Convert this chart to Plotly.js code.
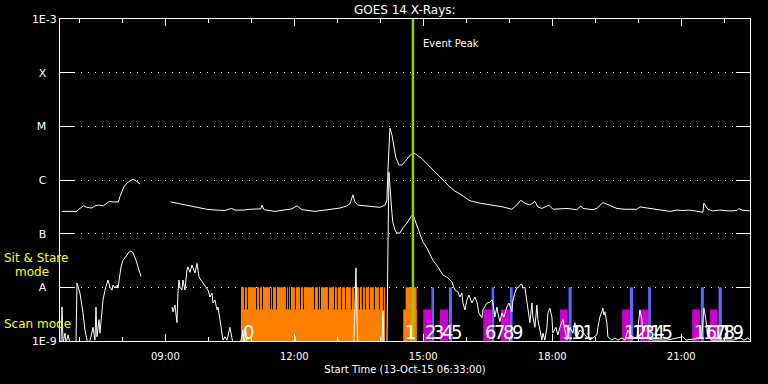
<!DOCTYPE html>
<html><head><meta charset="utf-8">
<script src="https://cdn.plot.ly/plotly-3.0.1.min.js"></script>
<style>html,body{margin:0;padding:0;background:#000;}#chart{width:768px;height:384px;}</style>
</head><body><div id="chart"></div>
<script>
// ---------------- DATA ----------------
const DAY = '2015-10-13';
const startTime = '06:33:00';
const endTime = '22:36:00';
const eventPeak = '14:45:36';

// GOES 14 long channel (1-8 A), hour of day / W m^-2 (null = data gap)
const longHour = [6.590,6.938,6.976,7.055,7.092,7.171,7.287,7.364,7.441,7.557,7.636,7.697,7.790,7.906,7.945,7.985,8.038,8.115,8.178,8.241,8.317,8.371,8.410,
  8.800,
  9.124,9.264,9.380,9.497,9.650,9.806,9.962,10.194,10.387,10.503,10.543,10.620,10.813,10.969,11.108,11.224,11.248,11.294,11.550,11.783,11.945,12.062,12.178,12.480,12.829,13.062,13.225,13.294,13.364,13.410,13.480,13.643,13.876,13.992,14.108,14.155,
  14.178,14.201,14.224,14.271,14.317,14.364,14.434,14.503,14.573,14.643,14.713,14.783,14.876,14.969,15.062,15.155,15.271,15.387,15.503,15.620,15.736,15.852,15.969,
  16.085,16.317,16.620,16.852,17.062,17.155,17.271,17.364,17.480,17.597,17.666,17.759,17.922,18.015,18.341,18.573,18.666,18.713,18.945,19.039,19.178,19.341,19.504,19.690,19.876,19.969,20.039,20.155,20.504,20.736,20.899,21.039,21.201,21.364,21.504,21.527,21.620,21.736,21.899,22.132,22.294,22.341,22.411,22.597];
const longFlux = [2.6e-7,2.6e-7,2.8e-7,3.1e-7,3.3e-7,3.1e-7,3.0e-7,3.3e-7,3.4e-7,3.3e-7,3.7e-7,4.0e-7,3.9e-7,3.9e-7,4.9e-7,6.1e-7,7.5e-7,8.9e-7,9.7e-7,1.03e-6,9.7e-7,8.9e-7,8.4e-7,
  null,
  3.9e-7,3.7e-7,3.5e-7,3.3e-7,3.2e-7,2.95e-7,2.85e-7,2.75e-7,2.7e-7,2.9e-7,2.95e-7,2.75e-7,2.75e-7,2.85e-7,2.9e-7,2.9e-7,3.4e-7,2.8e-7,2.6e-7,2.8e-7,2.9e-7,3.3e-7,2.8e-7,2.6e-7,2.8e-7,3.0e-7,3.3e-7,3.6e-7,5.3e-7,3.9e-7,3.4e-7,3.3e-7,3.1e-7,3.1e-7,3.4e-7,4.2e-7,
  1.5e-6,5.6e-6,9.3e-6,6.9e-6,4.0e-6,2.6e-6,1.9e-6,1.9e-6,2.2e-6,2.6e-6,3.0e-6,3.2e-6,2.8e-6,2.5e-6,2.1e-6,1.75e-6,1.4e-6,1.14e-6,9.2e-7,7.4e-7,6.2e-7,5.5e-7,4.8e-7,
  4.1e-7,3.7e-7,3.4e-7,3.15e-7,2.85e-7,3.3e-7,4.2e-7,3.7e-7,3.4e-7,4.0e-7,3.15e-7,2.95e-7,3.4e-7,2.85e-7,2.95e-7,2.8e-7,3.3e-7,2.95e-7,2.8e-7,2.95e-7,3.8e-7,3.4e-7,2.95e-7,2.85e-7,2.85e-7,2.85e-7,3.15e-7,3.05e-7,2.85e-7,2.6e-7,2.75e-7,2.7e-7,2.75e-7,2.6e-7,2.5e-7,3.7e-7,2.85e-7,2.65e-7,2.75e-7,2.65e-7,2.7e-7,2.95e-7,2.75e-7,2.65e-7];

// GOES 14 short channel (0.5-4 A), hour of day / W m^-2 (null = data gap)
const shortHour = [6.573,6.597,6.620,6.666,6.690,6.736,6.783,6.922,6.945,7.015,7.085,7.131,7.178,7.224,7.271,7.317,7.364,7.387,7.410,7.457,7.480,7.527,7.550,7.597,7.643,7.666,7.713,7.759,7.783,7.829,7.876,7.899,7.969,8.015,8.108,8.155,8.201,8.248,8.317,8.364,8.434,
  8.800,
  9.155,9.178,9.224,9.271,9.294,9.317,9.341,9.387,9.410,9.457,9.503,9.527,9.573,9.620,9.643,9.690,9.736,9.783,9.829,9.876,9.945,9.992,10.038,10.085,10.108,10.155,10.201,10.224,10.271,10.317,10.341,10.387,10.434,10.503,10.550,10.573,10.736,10.783,10.806,10.829,10.876,10.899,
  11.992,12.015,12.038,12.992,13.015,13.039,13.387,13.410,13.434,13.457,13.480,14.038,14.062,14.085,14.155,
  14.178,14.201,14.271,14.294,14.341,14.387,14.457,14.527,14.620,14.690,14.736,14.783,14.852,14.922,14.992,15.085,15.224,15.341,15.457,15.573,15.666,15.736,15.806,15.852,15.899,15.922,15.969,16.015,16.062,16.131,16.201,16.248,16.294,16.364,16.387,16.480,16.550,16.597,16.620,16.666,16.713,16.736,16.783,16.829,16.876,16.945,16.992,17.062,17.085,17.131,17.178,17.201,17.248,17.294,17.317,17.364,17.410,17.434,17.480,17.527,17.550,17.597,17.643,17.666,17.713,17.759,17.783,17.829,17.876,17.899,17.945,17.992,18.015,18.085,18.131,18.178,18.248,18.294,18.341,18.411,18.480,18.527,18.573,18.643,18.713,18.806,18.876,18.945,19.039,19.062,19.108,19.155,19.178,19.201,19.225,19.271,19.294,19.387,19.457,19.527,19.620,19.690,19.759,19.852,19.969,20.039,20.085,20.108,20.201,20.341,20.504,20.666,21.039,21.108,21.480,21.527,21.574,21.620,21.713,21.899,22.201,22.387,22.457,22.550,22.597];
const shortFlux = [9e-10,4.3e-9,9e-10,1.4e-9,9e-10,1.3e-9,9e-10,9e-10,1.2e-8,7.8e-9,3.3e-9,1.6e-9,1.04e-9,9e-10,1.2e-9,1.8e-9,1.04e-9,4.3e-9,1.2e-9,2.5e-9,1.4e-9,3.3e-9,5.8e-9,8.9e-9,1.2e-8,1.37e-8,1.0e-8,8.9e-9,1.1e-8,9.7e-9,1.1e-8,9.7e-9,2.4e-8,3.2e-8,4.0e-8,4.55e-8,4.75e-8,4.4e-8,3.2e-8,2.4e-8,1.6e-8,
  null,
  4.3e-9,3.5e-9,4.7e-9,2.2e-9,7.8e-9,1.37e-8,1.0e-8,8.9e-9,1.37e-8,8.9e-9,2.1e-8,2.4e-8,1.9e-8,2.6e-8,2.3e-8,1.85e-8,2.8e-8,1.56e-8,1.37e-8,1.2e-8,1.0e-8,8.9e-9,6.6e-9,7.8e-9,5.1e-9,5.8e-9,3.8e-9,4.3e-9,2.5e-9,1.4e-9,1.04e-9,1.2e-9,1.04e-9,1.8e-9,1.04e-9,9e-10,9e-10,1.2e-9,1.6e-9,9e-10,1.5e-9,9e-10,
  9e-10,1.2e-9,9e-10,9e-10,1.1e-9,9e-10,9e-10,3.3e-9,2.3e-8,3.3e-9,9e-10,9e-10,3.6e-9,9e-10,9e-10,
  5.0e-8,1.4e-6,2.4e-7,1.6e-7,1.17e-7,1.03e-7,1.03e-7,1.28e-7,1.58e-7,2.0e-7,2.2e-7,2.0e-7,1.45e-7,1.03e-7,7.0e-8,5.4e-8,3.2e-8,2.4e-8,1.7e-8,1.5e-8,1.26e-8,8.9e-9,8.2e-9,6.6e-9,7.8e-9,5.1e-9,3.8e-9,5.8e-9,7.2e-9,5.1e-9,6.6e-9,5.3e-9,3.3e-9,2.7e-9,3.8e-9,5.1e-9,5.3e-9,5.8e-9,5.1e-9,2.8e-9,4.3e-9,3.3e-9,2.3e-9,3.3e-9,2.8e-9,4.3e-9,5.1e-9,3.5e-9,5.8e-9,7.8e-9,1.0e-8,9.7e-9,1.1e-8,1.15e-8,9.7e-9,1.0e-8,5.8e-9,3.8e-9,2.2e-9,5.1e-9,2.8e-9,1.8e-9,4.7e-9,2.5e-9,1.5e-9,1.04e-9,1.4e-9,1.04e-9,1.8e-9,3.3e-9,4.1e-9,2.8e-9,1.4e-9,1.8e-9,1.3e-9,1.8e-9,2.5e-9,1.5e-9,1.04e-9,1.8e-9,1.4e-9,2.2e-9,1.2e-9,1.6e-9,1.4e-9,1.14e-9,1.04e-9,1.14e-9,1.3e-9,1.8e-9,2.8e-9,3.5e-9,4.1e-9,3.05e-9,3.5e-9,2.2e-9,1.2e-9,1.04e-9,1.14e-9,1.04e-9,1.14e-9,1.04e-9,1.6e-9,1.2e-9,1.14e-9,3.8e-9,2.5e-9,1.14e-9,1.14e-9,1.04e-9,1.04e-9,1.04e-9,1.2e-9,1.04e-9,1.14e-9,4.1e-9,2.5e-9,1.2e-9,1.04e-9,1.04e-9,1.04e-9,1.14e-9,1.04e-9,1.14e-9,1.04e-9];

// Observations (number, start, end, mode)
const obsLabel = ['0','1','2','3','4','5','6','7','8','9','10','11','12','13','14','15','16','17','18','19'];
const obsStart = ['10:45:36','14:32:00','14:59:54','15:11:24','15:23:12','15:35:48','16:23:42','16:35:24','16:48:18','17:00:54','18:10:42','18:22:48','19:37:36','19:48:18','20:02:18','20:13:54','21:15:18','21:27:24','21:40:00','21:52:06'];
const obsEnd   = ['14:06:30','14:50:42','15:11:24','15:14:54','15:34:48','15:40:00','16:35:24','16:39:00','17:00:54','17:04:42','18:21:24','18:27:00','19:48:18','19:53:00','20:13:54','20:17:36','21:26:00','21:31:36','21:50:42','21:56:42'];
const obsMode  = ['sitstare','sitstare','scan','sit','scan','sit','scan','sit','scan','sit','scan','sit','scan','sit','scan','sit','scan','sit','scan','sit'];

// Sit & stare exposure blocks within observations 0 and 1
const ssExpStart = ['10:45:36','10:51:06','10:55:18','11:07:54','11:12:06','11:16:18','11:27:24','11:30:12','11:35:48','11:49:42','11:52:30','11:55:18','12:02:18','12:09:18','12:13:30','12:28:48','12:34:24','12:37:12','12:48:18','12:56:42','13:00:54','13:06:30','13:12:06','13:20:24','13:24:36','13:31:36','13:35:48','13:40:00','13:45:36','13:52:30','13:59:30','14:05:06','14:35:24'];
const ssExpEnd   = ['10:49:42','10:53:54','11:06:30','11:10:42','11:14:54','11:26:00','11:28:48','11:34:24','11:48:18','11:51:06','11:53:54','12:00:54','12:07:54','12:12:06','12:27:24','12:33:00','12:35:48','12:46:54','12:55:18','12:59:30','13:05:06','13:10:42','13:19:00','13:23:12','13:30:12','13:34:24','13:38:36','13:44:12','13:51:06','13:58:06','14:03:42','14:06:30','14:50:42'];

const yTickVals = [1e-9, 1e-8, 1e-7, 1e-6, 1e-5, 1e-4, 1e-3];
const yTickText = ['1E-9', 'A', 'B', 'C', 'M', 'X', '1E-3'];

// ---------------- HELPERS ----------------
const pad = n => String(n).padStart(2, '0');
function hourStamp(h) {
  const s = Math.round(h * 3600);
  return DAY + ' ' + pad(Math.floor(s / 3600)) + ':' + pad(Math.floor(s % 3600 / 60)) + ':' + pad(s % 60);
}
const clockStamp = c => DAY + ' ' + c;
function clockMs(c) { const p = c.split(':').map(Number); return ((p[0] * 60 + p[1]) * 60 + p[2]) * 1000; }

const SIT_TOP = 1e-8;     // level of sit & stare marks (A level)
const SCAN_TOP = 3.86e-9; // level of scan marks
const ORANGE = '#ff8000', MAGENTA = '#cc00cc', BLUE = '#6464ff';

function barTrace(starts, ends, level, color) {
  return {
    type: 'bar', x: starts.map(clockStamp),
    width: starts.map((s, i) => clockMs(ends[i]) - clockMs(s)),
    offset: 0, y: starts.map(() => level),
    marker: {color: color, line: {width: 0}}, hoverinfo: 'skip'
  };
}
const pick = (arr, mode) => arr.filter((_, i) => obsMode[i] === mode);

const traces = [
  barTrace(pick(obsStart, 'sitstare'), pick(obsEnd, 'sitstare'), SCAN_TOP, ORANGE),
  barTrace(ssExpStart, ssExpEnd, SIT_TOP, ORANGE),
  barTrace(pick(obsStart, 'scan'), pick(obsEnd, 'scan'), SCAN_TOP, MAGENTA),
  barTrace(pick(obsStart, 'sit'), pick(obsEnd, 'sit'), SIT_TOP, BLUE),
  {type: 'scatter', mode: 'lines', x: shortHour.map(hourStamp), y: shortFlux,
   line: {color: '#ffffff', width: 1}, connectgaps: false, hoverinfo: 'skip'},
  {type: 'scatter', mode: 'lines', x: longHour.map(hourStamp), y: longFlux,
   line: {color: '#ffffff', width: 1}, connectgaps: false, hoverinfo: 'skip'}
];

const FONT = 'DejaVu Sans, sans-serif';
const NB = '\u00a0\u00a0\u00a0';
const annotations = [
  {xref: 'x', yref: 'paper', x: clockStamp(eventPeak), y: 0.925, xanchor: 'left', yanchor: 'middle', xshift: 8,
   text: 'Event Peak', showarrow: false, font: {family: FONT, size: 10, color: '#ffffff'}},
  {xref: 'paper', yref: 'paper', x: -0.084, y: 0.258, xanchor: 'left', yanchor: 'middle', text: 'Sit & Stare',
   showarrow: false, font: {family: FONT, size: 12, color: '#ffff00'}},
  {xref: 'paper', yref: 'paper', x: -0.068, y: 0.214, xanchor: 'left', yanchor: 'middle', text: 'mode',
   showarrow: false, font: {family: FONT, size: 12, color: '#ffff00'}},
  {xref: 'paper', yref: 'paper', x: -0.084, y: 0.053, xanchor: 'left', yanchor: 'middle', text: 'Scan mode',
   showarrow: false, font: {family: FONT, size: 12, color: '#ffff00'}}
];
obsLabel.forEach((lab, i) => annotations.push({
  xref: 'x', yref: 'paper', x: clockStamp(obsStart[i]), y: 0, xanchor: 'left', yanchor: 'bottom', yshift: -5,
  text: lab, showarrow: false,
  font: {family: 'Liberation Sans Narrow, DejaVu Sans Condensed, DejaVu Sans, sans-serif', size: 20, color: '#ffffff'}
}));

const layout = {
  width: 768, height: 384,
  margin: {l: 60, r: 18, t: 19, b: 43},
  paper_bgcolor: '#000000', plot_bgcolor: '#000000',
  showlegend: false, barmode: 'overlay',
  title: {text: 'GOES 14 X-Rays:', x: 0.527, xanchor: 'center', y: 0.974, yanchor: 'middle', yref: 'container',
          font: {family: FONT, size: 12, color: '#ffffff'}},
  xaxis: {
    type: 'date', range: [clockStamp(startTime), clockStamp(endTime)],
    showline: true, linecolor: '#ffffff', linewidth: 1, mirror: 'ticks',
    ticks: 'inside', ticklen: 7, tickcolor: '#ffffff', tickwidth: 1,
    tick0: DAY + ' 00:00:00', dtick: 3 * 3600000, tickformat: '%H:%M',
    minor: {dtick: 3600000, ticks: 'inside', ticklen: 4, tickcolor: '#ffffff', showgrid: false},
    showgrid: false, zeroline: false, ticklabelstandoff: 6,
    tickfont: {family: FONT, size: 10, color: '#ffffff'},
    title: {text: 'Start Time (13-Oct-15 06:33:00)', standoff: 4, font: {family: FONT, size: 10, color: '#ffffff'}}
  },
  yaxis: {
    type: 'log', range: [-9, -3],
    showline: true, linecolor: '#ffffff', linewidth: 1, mirror: 'ticks',
    ticks: 'inside', ticklen: 14, tickcolor: '#ffffff', tickwidth: 1,
    tickmode: 'array', tickvals: yTickVals,
    ticktext: yTickText.map(t => t.length > 1 ? t : t + NB),
    showgrid: true, gridcolor: '#ffffff', gridwidth: 1, griddash: '1px,6px',
    zeroline: false, tickfont: {family: FONT, size: 11, color: '#ffffff'}
  },
  shapes: [{type: 'line', xref: 'x', yref: 'paper', x0: clockStamp(eventPeak), x1: clockStamp(eventPeak), y0: 0, y1: 1,
            line: {color: '#99cc00', width: 2.5}, layer: 'above'}],
  annotations: annotations
};

Plotly.newPlot('chart', traces, layout, {staticPlot: true, displayModeBar: false});
</script>
</body></html>
